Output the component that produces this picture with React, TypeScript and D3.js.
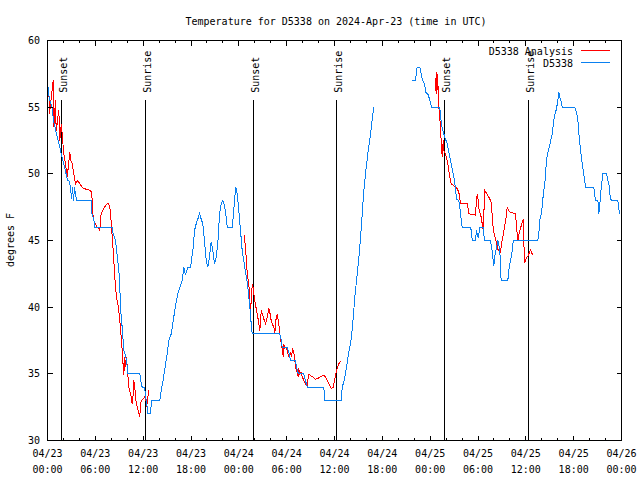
import React from "react";
import * as d3 from "d3";

const title = "Temperature for D5338 on 2024-Apr-23 (time in UTC)";
const yAxisLabel = "degrees F";
const seriesNames = ["D5338 Analysis", "D5338"];
const seriesColors = ["#ff0000", "#0a80f0"];

const xTickHours = [0, 6, 12, 18, 24, 30, 36, 42, 48, 54, 60, 66, 72];
const xTickDays = ["04/23", "04/23", "04/23", "04/23", "04/24", "04/24", "04/24", "04/24", "04/25", "04/25", "04/25", "04/25", "04/26"];
const xTickTimes = ["00:00", "06:00", "12:00", "18:00", "00:00", "06:00", "12:00", "18:00", "00:00", "06:00", "12:00", "18:00", "00:00"];
const yTicks = [30, 35, 40, 45, 50, 55, 60];

const sunLabels = ["Sunset", "Sunrise", "Sunset", "Sunrise", "Sunset", "Sunrise"];
const sunHours = [1.69, 12.19, 25.75, 36.16, 49.71, 60.25];
const sunLineTop = 55.55;

// hours since 2024-04-23 00:00 UTC, degrees F
const analysis1: [number, number][] = [
  [0.16, 56.4], [0.25, 54.5], [0.72, 57.0], [0.79, 53.5], [1.0, 55.5], [1.09, 53.2], [1.42, 54.8], [1.54, 52.5],
  [1.72, 53.7], [1.84, 53.0], [2.04, 51.5], [2.26, 50.75], [2.47, 49.75], [2.8, 51.6], [2.92, 51.0], [3.1, 50.75],
  [3.3, 50.0], [3.51, 49.25], [3.8, 49.5], [4.05, 49.25], [4.35, 49.0], [4.55, 48.9], [5.39, 48.75], [5.52, 48.6],
  [5.61, 48.0], [5.68, 47.0], [5.81, 46.5], [6.02, 46.25], [6.23, 46.0], [6.44, 45.9], [6.56, 45.7], [6.65, 46.8],
  [6.86, 47.2], [7.15, 47.5], [7.4, 47.7], [7.61, 47.8], [7.78, 47.6], [7.9, 47.1], [8.03, 46.0], [8.12, 45.25],
  [8.24, 44.25], [8.32, 43.5], [8.4, 42.6], [8.53, 41.5], [8.66, 40.75], [8.82, 40.25], [8.99, 39.5], [9.07, 39.0],
  [9.24, 37.75], [9.37, 36.75], [9.5, 35.5], [9.57, 34.9], [9.7, 36.25], [9.78, 35.5], [9.91, 36.25], [9.99, 35.6],
  [10.2, 34.0], [10.32, 33.75], [10.5, 33.25], [10.62, 32.75], [10.75, 33.5], [10.83, 34.5], [10.95, 34.0],
  [11.08, 33.0], [11.25, 32.5], [11.45, 32.1], [11.58, 31.75], [11.67, 32.75], [11.79, 33.0], [12.08, 33.15],
  [12.29, 33.4], [12.42, 32.5], [12.71, 33.75],
];
const analysis2: [number, number][] = [
  [24.71, 45.4], [24.84, 44.25], [24.96, 43.5], [25.05, 42.5], [25.25, 41.75], [25.38, 40.5], [25.46, 39.75],
  [25.55, 40.4], [25.68, 41.75], [25.8, 41.5], [25.88, 41.0], [26.0, 40.5], [26.22, 39.75], [26.38, 39.25],
  [26.51, 38.75], [26.63, 38.25], [26.72, 39.0], [26.81, 39.75], [27.01, 39.4], [27.14, 39.1], [27.35, 38.75],
  [27.56, 39.25], [27.76, 39.9], [27.89, 39.6], [28.06, 39.0], [28.19, 38.75], [28.39, 38.5], [28.52, 38.1],
  [28.64, 39.0], [28.81, 39.5], [28.94, 39.0], [29.06, 38.5], [29.14, 38.0], [29.32, 37.25], [29.44, 36.9],
  [29.57, 36.25], [29.64, 37.25], [29.77, 36.9], [29.89, 37.0], [30.07, 36.75], [30.19, 36.4], [30.32, 36.25],
  [30.48, 36.6], [30.61, 36.25], [30.73, 36.9], [30.9, 36.6], [30.98, 36.25], [31.11, 35.5], [31.32, 35.1],
  [31.45, 34.8], [31.52, 35.4], [31.65, 35.0], [31.82, 35.1], [31.95, 34.8], [32.15, 34.5], [32.36, 34.25],
  [32.58, 34.1], [32.7, 34.75], [32.78, 34.95], [33.2, 34.8], [33.62, 34.6], [33.91, 34.65], [34.25, 34.8],
  [34.66, 34.9], [34.87, 34.75], [35.16, 34.4], [35.41, 34.1], [35.63, 33.9], [35.84, 34.0], [36.0, 34.5],
  [36.16, 35.0], [36.34, 35.4], [36.54, 35.75], [36.75, 35.95],
];
const analysis3: [number, number][] = [
  [48.67, 56.2], [48.76, 57.6], [48.84, 56.0], [48.93, 57.5], [49.08, 55.0], [49.21, 54.25], [49.3, 53.25],
  [49.51, 51.25], [49.64, 52.5], [49.71, 51.75], [49.92, 51.5], [50.14, 51.0], [50.34, 50.25], [50.46, 49.75],
  [50.64, 49.25], [50.97, 49.1], [51.18, 49.0], [51.39, 48.9], [51.6, 48.6], [51.81, 47.75], [52.44, 47.75],
  [52.65, 47.75], [52.77, 47.4], [52.85, 47.0], [53.69, 46.9], [53.78, 47.75], [53.9, 48.5], [54.03, 48.0],
  [54.1, 47.4], [54.23, 47.1], [54.4, 46.75], [54.53, 46.25], [54.65, 45.75], [54.85, 48.75], [55.07, 48.55],
  [55.36, 48.25], [55.57, 48.0], [55.7, 47.75], [55.78, 46.75], [55.91, 45.9], [56.07, 45.4], [56.24, 45.0],
  [56.41, 44.6], [56.54, 44.25], [56.82, 44.1], [56.95, 44.75], [57.11, 45.25], [57.32, 46.0], [57.54, 46.75],
  [57.66, 47.5], [57.86, 47.25], [58.08, 47.1], [58.49, 47.05], [58.71, 47.0], [58.83, 46.0], [59.0, 45.0],
  [59.12, 45.4], [59.33, 45.9], [59.55, 46.4], [59.67, 46.6], [59.83, 43.3], [59.96, 43.5], [60.08, 43.75],
  [60.25, 43.8], [60.38, 44.0], [60.59, 44.3], [60.71, 44.1], [60.88, 43.9],
];

const observed1: [number, number][] = [
  [0, 57], [0.13, 56], [0.31, 55.5], [0.59, 55], [0.75, 54], [0.94, 53.5], [1.13, 53], [1.32, 52.5], [1.54, 52],
  [1.84, 51.2], [2.04, 50.7], [2.26, 50.2], [2.51, 49.5], [2.67, 49.5], [2.89, 49], [3.01, 48.1], [3.14, 49],
  [3.26, 48], [3.39, 49], [3.51, 48.5], [3.64, 48], [5.48, 48], [5.58, 47], [5.83, 46.5], [5.93, 46], [8.12, 46],
  [8.24, 45.5], [8.53, 45], [8.82, 43.5], [9.03, 42.2], [9.16, 40], [9.28, 39], [9.37, 38.5], [9.57, 36.75],
  [9.91, 36.1], [10.07, 35], [11.58, 35], [11.76, 34.25], [11.88, 34], [12.17, 34], [12.29, 33.4], [12.51, 32.5],
  [12.58, 32], [12.92, 32], [13.05, 33], [14.09, 33], [14.26, 33.75], [14.51, 34.5], [14.68, 35.25], [15.02, 36.5],
  [15.22, 37.5], [15.52, 38], [15.77, 39], [16.06, 40.1], [16.34, 41], [16.68, 41.6], [16.9, 42], [17.1, 43],
  [17.31, 42.4], [17.6, 43], [17.94, 43], [18.06, 43.5], [18.28, 44.5], [18.44, 45.75], [18.65, 46.25],
  [18.85, 46.6], [19.07, 47], [19.28, 46.6], [19.48, 46.25], [19.69, 45], [19.91, 43.5], [20.11, 43],
  [20.32, 43.75], [20.53, 44.9], [20.74, 44.25], [20.95, 43.25], [21.16, 43.75], [21.36, 44.75], [21.58, 47],
  [21.79, 47.75], [21.99, 48], [22.2, 47.6], [22.42, 46.75], [22.54, 46], [23.17, 46], [23.29, 46.75], [23.46, 48],
  [23.62, 49], [23.8, 48.5], [24.0, 47.25], [24.21, 45.75], [24.42, 44.25], [24.62, 43.5], [24.84, 42.6],
  [25.05, 41.9], [25.25, 40.8], [25.38, 40.0], [25.55, 38.75], [25.68, 38], [29.14, 38], [29.32, 37.5],
  [29.44, 37], [30.07, 37], [30.27, 36.6], [30.48, 36], [31.11, 36], [31.23, 35.5], [31.4, 35.1], [31.65, 35],
  [32.15, 35], [32.36, 34.5], [32.58, 34], [34.66, 34], [34.78, 33], [36.84, 33], [36.97, 34], [37.26, 34.6],
  [37.51, 35.5], [37.79, 36.6], [38.1, 37.6], [38.35, 39.25], [38.55, 40.75], [38.85, 42.5], [39.14, 44.25],
  [39.39, 46.25], [39.68, 48.75], [39.93, 50.25], [40.18, 51.5], [40.52, 53], [40.77, 54.25], [40.93, 55],
];
const observed2: [number, number][] = [
  [45.75, 57], [46.16, 57], [46.37, 58], [46.7, 58], [46.88, 57.5], [47.04, 57], [47.29, 56.75], [47.45, 56.1],
  [47.7, 56], [47.92, 55.6], [48.17, 55], [49.21, 55], [49.3, 54.25], [49.51, 53.4], [49.71, 53], [49.92, 52.6],
  [50.14, 52.25], [50.34, 51.6], [50.55, 51], [50.97, 49.75], [51.18, 48.9], [51.3, 48.1], [51.6, 48],
  [51.81, 47.1], [51.9, 46.5], [52.02, 46], [53.06, 46], [53.15, 45.75], [53.28, 45], [53.69, 45], [53.81, 45.75],
  [54.03, 45.2], [54.23, 46], [54.65, 46], [54.72, 45.5], [54.85, 45], [55.57, 45], [55.7, 44.5], [55.82, 44],
  [55.91, 43.5], [55.98, 43.1], [56.11, 43.8], [56.32, 44.5], [56.49, 45], [56.74, 44.25], [56.82, 42.8],
  [56.91, 42], [57.74, 42], [57.86, 42.75], [58.08, 43.5], [58.29, 44.25], [58.42, 45], [61.5, 45], [61.63, 45.5],
  [61.75, 46.5], [61.93, 47], [62.05, 47.5], [62.18, 48.4], [62.34, 49.1], [62.46, 49.75], [62.59, 51.1],
  [62.88, 51.9], [63.09, 52.4], [63.31, 53], [63.51, 54], [63.63, 54.4], [63.85, 54.9], [64.01, 55.5],
  [64.14, 56.1], [64.26, 55.75], [64.44, 55.4], [64.57, 55], [66.15, 55], [66.36, 54.6], [66.53, 54], [66.65, 53],
  [66.86, 51.75], [67.08, 50.75], [67.28, 49.9], [67.49, 49], [68.53, 49], [68.62, 48.5], [68.75, 48], [69.04, 48],
  [69.16, 47], [69.29, 47.75], [69.46, 49], [69.66, 50], [70.13, 50], [70.27, 49.6], [70.45, 49.1], [70.61, 48.1],
  [70.83, 48], [71.53, 48], [71.65, 47.5], [71.74, 47],
];

const analysisSegments = [analysis1, analysis2, analysis3];
const observedSegments = [observed1, observed2];

const FONT = "'DejaVu Sans Mono', monospace";

export default function App() {
  const L = 47.5, R = 621.5, T = 40.5, B = 440.5;
  const x = d3.scaleLinear().domain([0, 72]).range([L, R]);
  const y = d3.scaleLinear().domain([30, 60]).range([B, T]);
  const line = d3.line<[number, number]>().x((d) => x(d[0])).y((d) => y(d[1]));

  const majorLen = 5;
  const minorLen = 2.5;
  const minorHours = d3.range(0, 73, 2).filter((h) => h % 6 !== 0);

  return (
    <svg width={640} height={480} style={{ display: "block", position: "absolute", left: 0, top: 0, background: "#fff" }}>
      <rect x={0} y={0} width={640} height={480} fill="#fff" />
      <text x={336} y={25} textAnchor="middle" fontFamily={FONT} fontSize={10} fill="#000">{title}</text>

      {/* sunrise/sunset markers */}
      {sunHours.map((h, i) => (
        <g key={"sun" + i}>
          <line x1={Math.round(x(h)) + 0.5} x2={Math.round(x(h)) + 0.5} y1={y(sunLineTop)} y2={B} stroke="#000" strokeWidth={1} shapeRendering="crispEdges" />
          <text transform={`translate(${Math.round(x(h)) + 6},${y(sunLineTop) - 7}) rotate(-90)`} fontFamily={FONT} fontSize={10} fill="#000">{sunLabels[i]}</text>
        </g>
      ))}

      {/* data */}
      {analysisSegments.map((seg, i) => (
        <path key={"a" + i} d={line(seg) || ""} fill="none" stroke={seriesColors[0]} strokeWidth={1} shapeRendering="crispEdges" />
      ))}
      {observedSegments.map((seg, i) => (
        <path key={"o" + i} d={line(seg) || ""} fill="none" stroke={seriesColors[1]} strokeWidth={1} shapeRendering="crispEdges" />
      ))}

      {/* border */}
      <rect x={L} y={T} width={R - L} height={B - T} fill="none" stroke="#000" strokeWidth={1} shapeRendering="crispEdges" />

      {/* x ticks */}
      {xTickHours.map((h, i) => (
        <g key={"xt" + i}>
          <line x1={x(h)} x2={x(h)} y1={B} y2={B - majorLen} stroke="#000" shapeRendering="crispEdges" />
          <line x1={x(h)} x2={x(h)} y1={T} y2={T + majorLen} stroke="#000" shapeRendering="crispEdges" />
          <text x={x(h)} y={457} textAnchor="middle" fontFamily={FONT} fontSize={10} fill="#000">{xTickDays[i]}</text>
          <text x={x(h)} y={473} textAnchor="middle" fontFamily={FONT} fontSize={10} fill="#000">{xTickTimes[i]}</text>
        </g>
      ))}
      {minorHours.map((h) => (
        <g key={"xm" + h}>
          <line x1={x(h)} x2={x(h)} y1={B} y2={B - minorLen} stroke="#000" shapeRendering="crispEdges" />
          <line x1={x(h)} x2={x(h)} y1={T} y2={T + minorLen} stroke="#000" shapeRendering="crispEdges" />
        </g>
      ))}

      {/* y ticks */}
      {yTicks.map((t) => (
        <g key={"yt" + t}>
          <line x1={L} x2={L + majorLen} y1={y(t)} y2={y(t)} stroke="#000" shapeRendering="crispEdges" />
          <line x1={R} x2={R - majorLen} y1={y(t)} y2={y(t)} stroke="#000" shapeRendering="crispEdges" />
          <text x={40} y={y(t) + 3.5} textAnchor="end" fontFamily={FONT} fontSize={10} fill="#000">{t}</text>
        </g>
      ))}

      <text transform="translate(14,240) rotate(-90)" textAnchor="middle" fontFamily={FONT} fontSize={10} fill="#000">{yAxisLabel}</text>

      {/* legend */}
      {seriesNames.map((n, i) => (
        <g key={"lg" + i}>
          <text x={573} y={54.5 + i * 12} textAnchor="end" fontFamily={FONT} fontSize={10} fill="#000">{n}</text>
          <line x1={581} x2={610} y1={50.5 + i * 12} y2={50.5 + i * 12} stroke={seriesColors[i]} strokeWidth={1} shapeRendering="crispEdges" />
        </g>
      ))}
    </svg>
  );
}
